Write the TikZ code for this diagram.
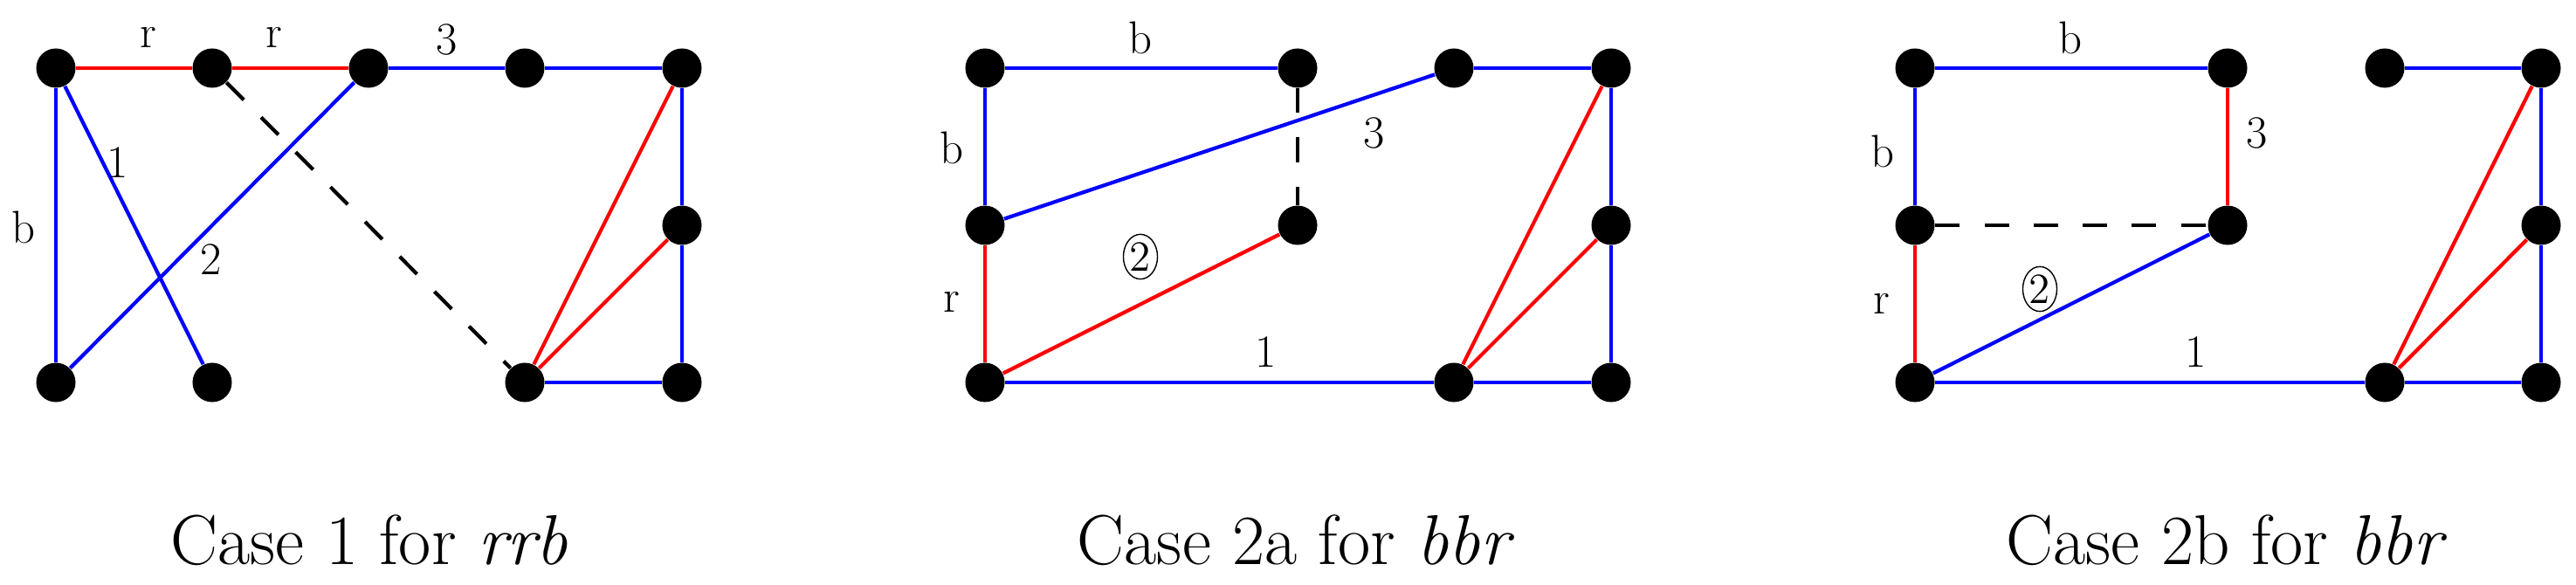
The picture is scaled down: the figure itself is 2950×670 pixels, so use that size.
\documentclass[tikz,border=0pt]{standalone}
\usetikzlibrary{shapes.geometric}
\begin{document}
\begin{tikzpicture}[x=0.01cm,y=-0.01cm,
  dot/.style={circle,fill=black,minimum size=0.45cm,inner sep=0pt},
  bl/.style={draw=blue,line width=1.2pt},
  rd/.style={draw=red,line width=1.2pt},
  dsh/.style={draw=black,line width=1.2pt,dash pattern=on 8pt off 8pt},
  lab/.style={font=\fontsize{15}{15}\selectfont,inner sep=0pt},
  clab/.style={font=\fontsize{14}{14}\selectfont,ellipse,draw,line width=0.4pt,inner sep=0.5pt},
  captext/.style={font=\fontsize{23}{23}\selectfont}]
\useasboundingbox (0,0) rectangle (2950,670);
% Panel 1
\foreach \n/\x/\y in {a1/64/78,a2/243/78,a3/422/78,a4/601/78,a5/781/78,a6/781/258,a7/64/438,a8/243/438,a9/601/438,a10/781/438}
  \node[dot] (\n) at (\x,\y) {};
\draw[rd] (a1)--(a2); \draw[rd] (a2)--(a3);
\draw[bl] (a3)--(a4); \draw[bl] (a4)--(a5);
\draw[bl] (a1)--(a7); \draw[bl] (a1)--(a8); \draw[bl] (a3)--(a7);
\draw[dsh] (a2)--(a9);
\draw[bl] (a5)--(a6); \draw[bl] (a6)--(a10); \draw[bl] (a9)--(a10);
\draw[rd] (a9)--(a5); \draw[rd] (a9)--(a6);
\node[lab] (l1) at (170,43) {r}; \node[lab] (l2) at (314,43) {r};
\node[lab] (l3) at (512,45) {3}; \node[lab] (l4) at (135,186) {1};
\node[lab] (l5) at (27,260) {b}; \node[lab] (l6) at (242,297) {2};
\node[captext] (c1) at (423,619) {Case 1 for \textit{rrb}};
% Panel 2
\foreach \n/\x/\y in {b1/1128/78,b2/1486/78,b3/1665/78,b4/1845/78,b5/1128/258,b6/1486/258,b7/1845/258,b8/1128/438,b9/1665/438,b10/1845/438}
  \node[dot] (\n) at (\x,\y) {};
\draw[bl] (b1)--(b2); \draw[bl] (b1)--(b5); \draw[bl] (b5)--(b3);
\draw[dsh] (b2)--(b6);
\draw[rd] (b5)--(b8); \draw[rd] (b8)--(b6);
\draw[bl] (b8)--(b9);
\draw[bl] (b3)--(b4); \draw[bl] (b4)--(b7); \draw[bl] (b7)--(b10); \draw[bl] (b9)--(b10);
\draw[rd] (b9)--(b4); \draw[rd] (b9)--(b7);
\node[lab] (m1) at (1306,43) {b}; \node[lab] (m2) at (1090,169) {b};
\node[lab] (m3) at (1574,152) {3}; \node[lab] (m4) at (1090,346) {r};
\node[clab] (m5) at (1306,294) {2}; \node[lab] (m6) at (1450,403) {1};
\node[captext] (c2) at (1484,619) {Case 2a for \textit{bbr}};
% Panel 3
\foreach \n/\x/\y in {d1/2193/78,d2/2551/78,d3/2731/78,d4/2910/78,d5/2193/258,d6/2551/258,d7/2910/258,d8/2193/438,d9/2731/438,d10/2910/438}
  \node[dot] (\n) at (\x,\y) {};
\draw[bl] (d1)--(d2); \draw[bl] (d1)--(d5); \draw[rd] (d2)--(d6);
\draw[dsh] (d5)--(d6);
\draw[rd] (d5)--(d8); \draw[bl] (d8)--(d6);
\draw[bl] (d8)--(d9);
\draw[bl] (d3)--(d4); \draw[bl] (d4)--(d7); \draw[bl] (d7)--(d10); \draw[bl] (d9)--(d10);
\draw[rd] (d9)--(d4); \draw[rd] (d9)--(d7);
\node[lab] (n1) at (2371,43) {b}; \node[lab] (n2) at (2156,173) {b};
\node[lab] (n3) at (2585,152) {3}; \node[lab] (n4) at (2155,348) {r};
\node[clab] (n5) at (2336,331) {2}; \node[lab] (n6) at (2515,403) {1};
\node[captext] (c3) at (2550,619) {Case 2b for \textit{bbr}};
\end{tikzpicture}
\end{document}
